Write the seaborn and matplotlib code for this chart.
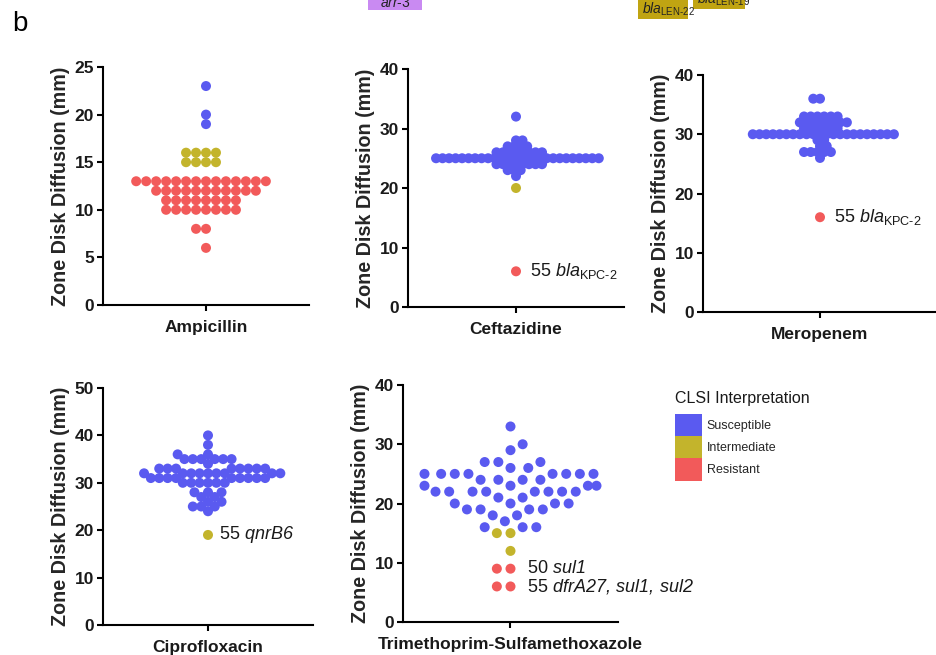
import numpy as np
import pandas as pd
import matplotlib
matplotlib.use("Agg")
import matplotlib.pyplot as plt
from matplotlib.patches import Patch, Rectangle
import seaborn as sns

# ---- zone diameters (mm), number of isolates at each diameter, CLSI call ----
AMP_ZONE = [23, 20, 19, 16, 15, 13, 12, 11, 10, 8, 6]
AMP_COUNT = [1, 1, 1, 4, 4, 14, 11, 8, 8, 2, 1]
AMP_CALL = ["S", "S", "S", "I", "I", "R", "R", "R", "R", "R", "R"]

CAZ_ZONE = [32, 28, 27, 26, 25, 24, 23, 22, 20, 6]
CAZ_COUNT = [1, 2, 4, 8, 26, 8, 3, 1, 1, 1]
CAZ_CALL = ["S", "S", "S", "S", "S", "S", "S", "S", "I", "R"]

MEM_ZONE = [36, 33, 32, 31, 30, 29, 28, 27, 26, 16]
MEM_COUNT = [2, 6, 8, 6, 22, 2, 2, 5, 1, 1]
MEM_CALL = ["S", "S", "S", "S", "S", "S", "S", "S", "S", "R"]

CIP_ZONE = [40, 38, 36, 35, 34, 33, 32, 31, 30, 28, 27, 26, 25, 24, 19]
CIP_COUNT = [1, 1, 2, 6, 1, 8, 9, 9, 6, 3, 2, 2, 3, 1, 1]
CIP_CALL = ["S"] * 14 + ["I"]

SXT_ZONE = [33, 30, 29, 27, 26, 25, 24, 23, 22, 21, 20, 19, 18, 17, 16, 15, 12, 9, 6]
SXT_COUNT = [1, 1, 1, 3, 2, 8, 4, 4, 8, 2, 4, 4, 2, 1, 3, 2, 1, 2, 2]
SXT_CALL = ["S"] * 15 + ["I", "I", "R", "R"]

# gene annotations next to single isolates: (zone, isolate, genes, subscript)
CAZ_NOTES = [(6, "55", "bla", "KPC-2")]
MEM_NOTES = [(16, "55", "bla", "KPC-2")]
CIP_NOTES = [(19, "55", "qnrB6", "")]
SXT_NOTES = [(9, "50", "sul1", ""), (6, "55", "dfrA27,\\,sul1,\\,sul2", "")]

CALL_NAMES = {"S": "Susceptible", "I": "Intermediate", "R": "Resistant"}
CALL_ORDER = ["Susceptible", "Intermediate", "Resistant"]
PALETTE = {"Susceptible": "#5A5AF0", "Intermediate": "#C3B42C", "Resistant": "#F25A5A"}

sns.set_theme(style="ticks")
plt.rcParams["font.family"] = ["Liberation Sans", "DejaVu Sans"]
plt.rcParams["mathtext.fontset"] = "custom"
plt.rcParams["mathtext.rm"] = "Liberation Sans"
plt.rcParams["mathtext.it"] = "Liberation Sans:italic"
plt.rcParams["mathtext.bf"] = "Liberation Sans:bold"
# fully italic gene names (digits included) are set through \mathcal
plt.rcParams["mathtext.cal"] = "Liberation Sans:italic"

W, H = 937, 655
DPI = 100
fig = plt.figure(figsize=(W / DPI, H / DPI), dpi=DPI)
fig.patch.set_facecolor("white")


def px_axes(left, top, right, bottom):
    return fig.add_axes([left / W, 1 - bottom / H, (right - left) / W, (bottom - top) / H])


# name, data, notes, y max, tick step, axes box (px), swarm spacing (px), note offset (pt)
PANELS = [
    ("Ampicillin", AMP_ZONE, AMP_COUNT, AMP_CALL, [], 25, 5, (103, 67, 309, 305), 9.5, 10),
    ("Ceftazidine", CAZ_ZONE, CAZ_COUNT, CAZ_CALL, CAZ_NOTES, 40, 10, (408, 69, 624, 307), 6.2, 10),
    ("Meropenem", MEM_ZONE, MEM_COUNT, MEM_CALL, MEM_NOTES, 40, 10, (703, 75, 937, 312), 6.4, 10),
    ("Ciprofloxacin", CIP_ZONE, CIP_COUNT, CIP_CALL, CIP_NOTES, 50, 10, (103, 388, 313, 625), 8.0, 8),
    ("Trimethoprim-Sulfamethoxazole", SXT_ZONE, SXT_COUNT, SXT_CALL, SXT_NOTES, 40, 10,
     (403, 385, 618, 622), 13.0, 12),
]

DOT_PT = 7.2  # drawn marker diameter in points
axes = []
for name, zones, counts, calls, notes, ymax, step, box, swarm_px, note_dx in PANELS:
    ax = px_axes(*box)
    df = pd.DataFrame({
        "drug": name,
        "zone": np.repeat(zones, counts),
        "call": np.repeat([CALL_NAMES[c] for c in calls], counts),
    })
    sns.swarmplot(data=df, x="drug", y="zone", hue="call", hue_order=CALL_ORDER,
                  palette=PALETTE, size=swarm_px * 72 / DPI, linewidth=0,
                  legend=False, ax=ax)
    ax.set_ylim(0, ymax)
    yt = np.arange(0, ymax + 1, step)
    ax.set_yticks(yt, labels=[str(v) for v in yt], fontsize=12.5, fontweight="bold")
    ax.set_xticks([0], labels=[name], fontsize=12.5, fontweight="bold")
    ax.set_xlabel("")
    ax.set_ylabel("Zone Disk Diffusion (mm)", fontsize=14.2, fontweight="bold", labelpad=3)
    ax.tick_params(axis="both", width=1.5, length=4.5, color="black", pad=2, labelcolor="#1a1a1a")
    ax.tick_params(axis="x", pad=6)
    for side in ("top", "right"):
        ax.spines[side].set_visible(False)
    for side in ("left", "bottom"):
        ax.spines[side].set_linewidth(1.5)
        ax.spines[side].set_color("black")
    ax.set_facecolor("white")

    for zone, iso, genes, sub in notes:
        if sub:
            label = f"{iso} $\\mathit{{{genes}}}_{{\\text{{{sub}}}}}$"
        else:
            label = f"{iso} $\\mathcal{{{genes}}}$"
        ax.annotate(label, xy=(0, zone), xytext=(note_dx, 0), textcoords="offset points",
                    ha="left", va="center", fontsize=13, color="#1a1a1a")
    axes.append(ax)

# lay out the swarms at the compact spacing, then enlarge the markers
fig.canvas.draw()
for ax in axes:
    for coll in ax.collections:
        if "draw" in coll.__dict__:
            del coll.draw
        coll.set_sizes([DOT_PT ** 2])
        coll.set_clip_on(False)

# legend
fig.text(675 / W, 1 - 398 / H, "CLSI Interpretation", fontsize=11.5, va="center",
         ha="left", color="#1a1a1a")
handles = [Patch(facecolor=PALETTE[c], edgecolor="none", label=c) for c in CALL_ORDER]
fig.legend(handles=handles, loc="upper left",
           bbox_to_anchor=(675 / W, 1 - 414 / H), frameon=False, fontsize=9,
           alignment="left", handlelength=2.2, handleheight=2.36,
           labelspacing=0, handletextpad=0.35, borderpad=0, borderaxespad=0)

# panel letter and the edge of the panel above
fig.text(12 / W, 1 - 31 / H, "b", fontsize=20, va="baseline", color="black")
fig.patches.append(Rectangle((368 / W, 1 - 10 / H), 54 / W, 10 / H, transform=fig.transFigure,
                             facecolor="#C98AF2", edgecolor="none"))
fig.text(395 / W, 1 - 7 / H, "$\\mathit{arr}$-3", ha="center", va="baseline",
         fontsize=10, color="#222222")
fig.patches.append(Rectangle((638 / W, 1 - 19 / H), 50 / W, 19 / H, transform=fig.transFigure,
                             facecolor="#C0A412", edgecolor="none"))
fig.text(642 / W, 1 - 14 / H, "$\\mathit{bla}_{\\text{LEN-22}}$", ha="left", va="baseline",
         fontsize=10, color="#222222")
fig.patches.append(Rectangle((693 / W, 1 - 9 / H), 52 / W, 9 / H, transform=fig.transFigure,
                             facecolor="#C0A412", edgecolor="none"))
fig.text(697 / W, 1 - 4 / H, "$\\mathit{bla}_{\\text{LEN-19}}$", ha="left", va="baseline",
         fontsize=10, color="#222222")

fig.savefig("out.png", dpi=DPI, facecolor="white")
